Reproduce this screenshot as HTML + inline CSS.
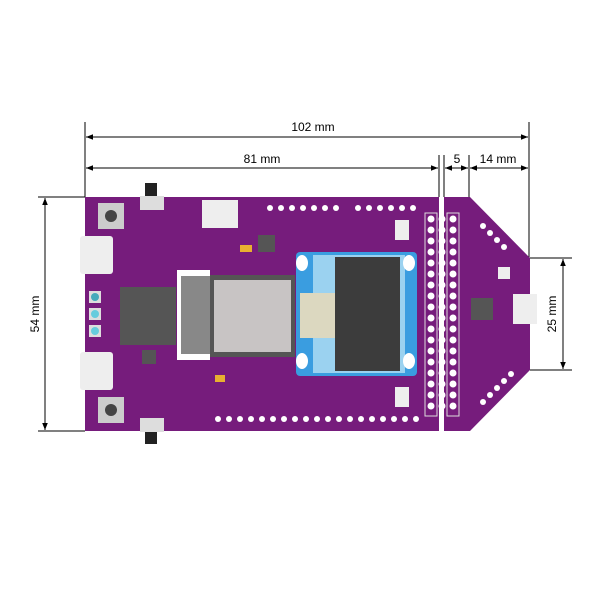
<!DOCTYPE html>
<html><head><meta charset="utf-8"><style>html,body{margin:0;padding:0;background:#fff}svg{display:block}</style></head>
<body>
<svg width="600" height="600" viewBox="0 0 600 600" xmlns="http://www.w3.org/2000/svg" font-family="Liberation Sans, sans-serif">
<defs>
<marker id="a" viewBox="0 0 10 10" refX="10" refY="5" markerWidth="7" markerHeight="7" orient="auto-start-reverse"><path d="M0,1 L10,5 L0,9 z" fill="#000"/></marker>
</defs>
<g stroke="#000" stroke-width="1" fill="none">
<line x1="85" y1="122" x2="85" y2="197"/>
<line x1="529" y1="122" x2="529" y2="258"/>
<line x1="439" y1="155" x2="439" y2="197"/>
<line x1="444" y1="155" x2="444" y2="197"/>
<line x1="469" y1="155" x2="469" y2="197"/>
<line x1="86" y1="137" x2="528" y2="137" marker-start="url(#a)" marker-end="url(#a)"/>
<line x1="86" y1="168" x2="438" y2="168" marker-start="url(#a)" marker-end="url(#a)"/>
<line x1="445" y1="168" x2="468" y2="168" marker-start="url(#a)" marker-end="url(#a)"/>
<line x1="470" y1="168" x2="528" y2="168" marker-start="url(#a)" marker-end="url(#a)"/>
<line x1="38" y1="197" x2="85" y2="197"/>
<line x1="38" y1="431" x2="85" y2="431"/>
<line x1="45" y1="198" x2="45" y2="430" marker-start="url(#a)" marker-end="url(#a)"/>
<line x1="530" y1="258" x2="572" y2="258"/>
<line x1="530" y1="370" x2="572" y2="370"/>
<line x1="563" y1="259" x2="563" y2="369" marker-start="url(#a)" marker-end="url(#a)"/>
</g>
<g font-size="12" fill="#000" text-anchor="middle">
<text x="313" y="131">102 mm</text>
<text x="262" y="163">81 mm</text>
<text x="457" y="163">5</text>
<text x="498" y="163">14 mm</text>
<text transform="translate(39,314) rotate(-90)">54 mm</text>
<text transform="translate(556,314) rotate(-90)">25 mm</text>
</g>
<rect x="85" y="197" width="354" height="234" fill="#761c7c"/>
<path d="M444,197 L470,197 L530,258 L530,370 L470,431 L444,431 z" fill="#761c7c"/>
<rect x="145" y="183" width="12" height="18" fill="#222"/>
<rect x="140" y="196" width="24" height="14" fill="#ddd"/>
<rect x="145" y="426" width="12" height="18" fill="#222"/>
<rect x="140" y="418" width="24" height="14" fill="#ddd"/>
<rect x="98" y="203" width="26" height="26" fill="#ccc"/><circle cx="111" cy="216" r="6" fill="#444"/>
<rect x="98" y="397" width="26" height="26" fill="#ccc"/><circle cx="111" cy="410" r="6" fill="#444"/>
<rect x="80" y="236" width="33" height="38" rx="3" fill="#eee"/>
<rect x="80" y="352" width="33" height="38" rx="3" fill="#eee"/>
<rect x="89" y="291" width="12" height="12" fill="#ddd"/><circle cx="95" cy="297" r="4" fill="#4ab"/>
<rect x="89" y="308" width="12" height="12" fill="#ddd"/><circle cx="95" cy="314" r="4" fill="#6cd"/>
<rect x="89" y="325" width="12" height="12" fill="#ddd"/><circle cx="95" cy="331" r="4" fill="#6cd"/>
<rect x="120" y="287" width="56" height="58" fill="#555"/>
<rect x="202" y="200" width="36" height="28" fill="#eee"/>
<rect x="177" y="270" width="33" height="90" fill="#fff"/>
<rect x="181" y="276" width="29" height="78" fill="#888"/>
<rect x="210" y="275" width="85" height="82" fill="#555"/>
<rect x="214" y="280" width="77" height="72" fill="#c8c4c4"/>
<!-- OLED -->
<rect x="296" y="252" width="121" height="124" rx="4" fill="#3a9de0"/>
<rect x="313" y="255" width="92" height="118" fill="#9bd2f0"/>
<rect x="335" y="257" width="65" height="114" fill="#3c3c3c"/>
<rect x="300" y="293" width="35" height="45" fill="#dcd8c0"/>
<ellipse cx="302" cy="263" rx="6" ry="8" fill="#fff"/><ellipse cx="302" cy="361" rx="6" ry="8" fill="#fff"/>
<ellipse cx="409" cy="263" rx="6" ry="8" fill="#fff"/><ellipse cx="409" cy="361" rx="6" ry="8" fill="#fff"/>
<rect x="258" y="235" width="17" height="17" fill="#555"/>
<rect x="142" y="350" width="14" height="14" fill="#555"/>
<rect x="471" y="298" width="22" height="22" fill="#555"/>
<rect x="498" y="267" width="12" height="12" fill="#eee"/>
<rect x="513" y="294" width="24" height="30" fill="#eee"/>
<rect x="395" y="220" width="14" height="20" fill="#eee"/>
<rect x="395" y="387" width="14" height="20" fill="#eee"/>
<rect x="215" y="375" width="10" height="7" fill="#e8b030"/>
<rect x="240" y="245" width="12" height="7" fill="#e8b030"/>
<rect x="425" y="213" width="12" height="203" fill="none" stroke="#ddd"/>
<rect x="447" y="213" width="12" height="203" fill="none" stroke="#ddd"/>
<g id="pins" fill="#fff">
<circle cx="431" cy="219" r="3.5"/><circle cx="431" cy="230" r="3.5"/><circle cx="431" cy="241" r="3.5"/><circle cx="431" cy="252" r="3.5"/><circle cx="431" cy="263" r="3.5"/><circle cx="431" cy="274" r="3.5"/><circle cx="431" cy="285" r="3.5"/><circle cx="431" cy="296" r="3.5"/><circle cx="431" cy="307" r="3.5"/><circle cx="431" cy="318" r="3.5"/><circle cx="431" cy="329" r="3.5"/><circle cx="431" cy="340" r="3.5"/><circle cx="431" cy="351" r="3.5"/><circle cx="431" cy="362" r="3.5"/><circle cx="431" cy="373" r="3.5"/><circle cx="431" cy="384" r="3.5"/><circle cx="431" cy="395" r="3.5"/><circle cx="431" cy="406" r="3.5"/>
</g>
<use href="#pins" x="22"/>
<use href="#pins" x="11"/>
<g fill="#fff">
<circle cx="270" cy="208" r="3"/><circle cx="281" cy="208" r="3"/><circle cx="292" cy="208" r="3"/><circle cx="303" cy="208" r="3"/><circle cx="314" cy="208" r="3"/><circle cx="325" cy="208" r="3"/><circle cx="336" cy="208" r="3"/><circle cx="358" cy="208" r="3"/><circle cx="369" cy="208" r="3"/><circle cx="380" cy="208" r="3"/><circle cx="391" cy="208" r="3"/><circle cx="402" cy="208" r="3"/><circle cx="413" cy="208" r="3"/>
<circle cx="218" cy="419" r="3"/><circle cx="229" cy="419" r="3"/><circle cx="240" cy="419" r="3"/><circle cx="251" cy="419" r="3"/><circle cx="262" cy="419" r="3"/><circle cx="273" cy="419" r="3"/><circle cx="284" cy="419" r="3"/><circle cx="295" cy="419" r="3"/><circle cx="306" cy="419" r="3"/><circle cx="317" cy="419" r="3"/><circle cx="328" cy="419" r="3"/><circle cx="339" cy="419" r="3"/><circle cx="350" cy="419" r="3"/><circle cx="361" cy="419" r="3"/><circle cx="372" cy="419" r="3"/><circle cx="383" cy="419" r="3"/><circle cx="394" cy="419" r="3"/><circle cx="405" cy="419" r="3"/><circle cx="416" cy="419" r="3"/>
<circle cx="483" cy="226" r="3"/><circle cx="490" cy="233" r="3"/><circle cx="497" cy="240" r="3"/><circle cx="504" cy="247" r="3"/>
<circle cx="483" cy="402" r="3"/><circle cx="490" cy="395" r="3"/><circle cx="497" cy="388" r="3"/><circle cx="504" cy="381" r="3"/><circle cx="511" cy="374" r="3"/>
</g>
</svg>
</body></html>
